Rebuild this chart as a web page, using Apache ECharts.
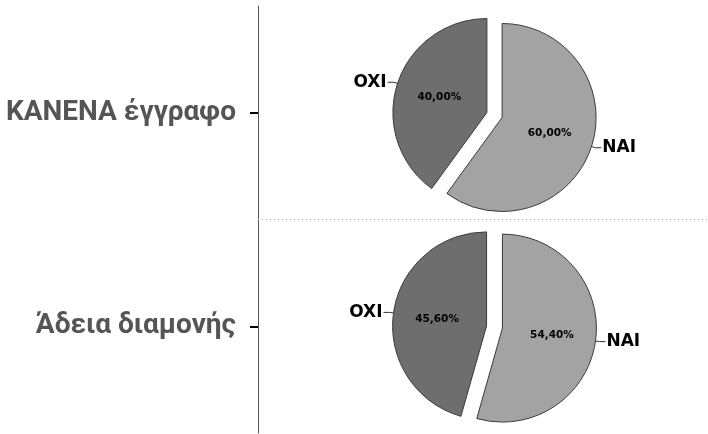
<!DOCTYPE html>
<html>
<head>
<meta charset="utf-8">
<script src="https://cdn.jsdelivr.net/npm/echarts@6/dist/echarts.min.js"></script>
<style>
html,body{margin:0;padding:0;background:#fff;}
#c{width:708px;height:434px;}
</style>
</head>
<body>
<div id="c"></div>
<script>
// Row categories (top to bottom)
var categories = ['ΚΑΝΕΝΑ έγγραφο', 'Άδεια διαμονής'];
// Slice names
var sliceNames = ['NAI', 'OXI'];
// Percent values per row
var valuesNone = [60.00, 40.00];
var valuesPermit = [54.40, 45.60];

var sliceColors = ['#a3a3a3', '#6e6e6e'];

function mkData(vals) {
  return vals.map(function (v, i) {
    return { name: sliceNames[i], value: v, selected: true, itemStyle: { color: sliceColors[i] } };
  });
}
function fmtPct(p) { return p.value.toFixed(2).replace('.', ',') + '%'; }

function pieSeries(vals, center) {
  var common = {
    type: 'pie',
    center: center,
    radius: 94,
    startAngle: 90,
    clockwise: true,
    selectedMode: 'multiple',
    selectedOffset: 8,
    animation: false,
    silent: true,
    avoidLabelOverlap: false,
    emphasis: { disabled: true }
  };
  var inner = Object.assign({}, common, {
    data: mkData(vals),
    itemStyle: { borderColor: '#3a3a3a', borderWidth: 1 },
    label: {
      position: 'inside',
      formatter: fmtPct,
      color: '#000',
      fontFamily: 'DejaVu Sans, Verdana, sans-serif',
      fontWeight: 'bold',
      fontSize: 10.5
    },
    labelLine: { show: false }
  });
  var outer = Object.assign({}, common, {
    data: mkData(vals).map(function (d) { d.itemStyle = { color: 'rgba(0,0,0,0)' }; return d; }),
    itemStyle: { borderWidth: 0 },
    label: {
      position: 'outside',
      formatter: '{b}',
      color: '#000',
      fontFamily: 'DejaVu Sans, Verdana, sans-serif',
      fontWeight: 'bold',
      fontSize: 17,
      distanceToLabelLine: 1
    },
    labelLine: { show: true, length: 4, length2: 6, lineStyle: { color: '#333', width: 1 } }
  });
  return [inner, outer];
}

var chart = echarts.init(document.getElementById('c'));
chart.setOption({
  animation: false,
  grid: { left: 258, right: 0, top: 6, bottom: 1, containLabel: false },
  xAxis: { type: 'value', show: false, min: 0, max: 1 },
  yAxis: [{
    type: 'category',
    inverse: true,
    data: categories,
    axisLine: { show: true, lineStyle: { color: '#555', width: 1 } },
    axisTick: { show: true, alignWithLabel: true, length: 8, lineStyle: { color: '#000', width: 2 } },
    axisLabel: {
      margin: 22,
      color: '#555',
      fontFamily: 'Roboto, sans-serif',
      fontWeight: 'bold',
      fontSize: 28
    },
    splitLine: { show: false }
  }, {
    type: 'value',
    show: false,
    inverse: true,
    min: 0,
    max: categories.length
  }],
  series: [{
    type: 'scatter',
    yAxisIndex: 1,
    data: [],
    silent: true,
    markLine: {
      symbol: 'none',
      silent: true,
      label: { show: false },
      lineStyle: { color: '#aaa', type: [1, 3], width: 1 },
      data: [{ yAxis: 1 }]
    }
  }].concat(
    pieSeries(valuesNone, [494.5, 115]),
    pieSeries(valuesPermit, [494.5, 327])
  )
});
</script>
</body>
</html>
